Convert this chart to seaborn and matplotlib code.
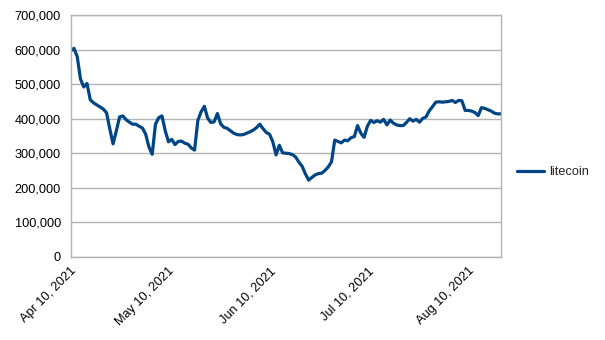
import matplotlib
matplotlib.use("Agg")
import matplotlib.pyplot as plt
import matplotlib.dates as mdates
from matplotlib.ticker import FuncFormatter, MultipleLocator
import numpy as np
import pandas as pd
import seaborn as sns

# Daily series, Apr 10 - Aug 20, 2021
start_date = "2021-04-10"
litecoin = [
    596, 604, 580, 515, 492, 502, 455, 446, 440, 434,
    428, 417, 370, 327, 365, 405, 408, 397, 390, 384,
    384, 378, 373, 355, 318, 297, 384, 403, 408, 365,
    333, 340, 325, 334, 335, 329, 326, 315, 309, 395,
    420, 436, 402, 389, 391, 415, 385, 375, 372, 365,
    358, 354, 353, 354, 358, 362, 367, 374, 384, 371,
    360, 355, 333, 295, 323, 301, 300, 299, 296, 289,
    274, 262, 240, 222, 230, 237, 241, 242, 250, 260,
    275, 338, 334, 330, 338, 336, 345, 348, 380, 358,
    346, 378, 395, 389, 394, 390, 398, 382, 396, 387,
    382, 380, 380, 389, 400, 393, 398, 390, 401, 405,
    423, 435, 448, 449, 448, 449, 450, 453, 447, 453,
    452, 424, 424, 422, 418, 409, 432, 430, 426, 422,
    416, 414, 414,
]
series_name = "litecoin"
tick_dates = ["2021-04-10", "2021-05-10", "2021-06-10", "2021-07-10", "2021-08-10"]

dates = pd.date_range(start_date, periods=len(litecoin), freq="D")
df = pd.DataFrame({"date": dates, "value": np.array(litecoin) * 1000.0, "series": series_name})

sns.set_style("white")
plt.rcParams["font.family"] = ["Liberation Sans", "DejaVu Sans"]

fig = plt.figure(figsize=(6.05, 3.40), dpi=100)
ax = fig.add_axes([70.7 / 605, 1 - 256.7 / 340, (501 - 70.7) / 605, (256.7 - 15.2) / 340])

grid_c = "#b3b3b3"
sns.lineplot(data=df, x="date", y="value", hue="series", palette=["#004586"],
             linewidth=2.3, ax=ax, legend=True)

ax.set_xlim(dates[0], dates[-1])
ax.set_ylim(0, 700000)
ax.yaxis.set_major_locator(MultipleLocator(100000))
ax.yaxis.set_major_formatter(FuncFormatter(lambda v, p: f"{int(v):,}"))
ax.set_xticks(pd.to_datetime(tick_dates))
ax.xaxis.set_major_formatter(mdates.DateFormatter("%b %d, %Y"))

ax.grid(axis="y", color=grid_c, linewidth=1.0)
ax.grid(axis="x", visible=False)
for s in ax.spines.values():
    s.set_color(grid_c)
    s.set_linewidth(1.0)
ax.tick_params(axis="both", which="major", length=4, width=1.0, color=grid_c,
               labelsize=9.2, labelcolor="black", direction="out")
ax.tick_params(axis="y", pad=3)
ax.tick_params(axis="x", pad=2)
for lab in ax.get_xticklabels():
    lab.set_rotation(45)
    lab.set_ha("right")
    lab.set_rotation_mode("anchor")
ax.set_xlabel("")
ax.set_ylabel("")

handles, labels = ax.get_legend_handles_labels()
ax.get_legend().remove()
fig.legend(handles, labels, loc="center left", bbox_to_anchor=(517 / 605, 1 - 172 / 340),
           frameon=False, fontsize=9.2, handlelength=2.1, handletextpad=0.4,
           borderpad=0, borderaxespad=0)

fig.savefig("out.png", dpi=100)
